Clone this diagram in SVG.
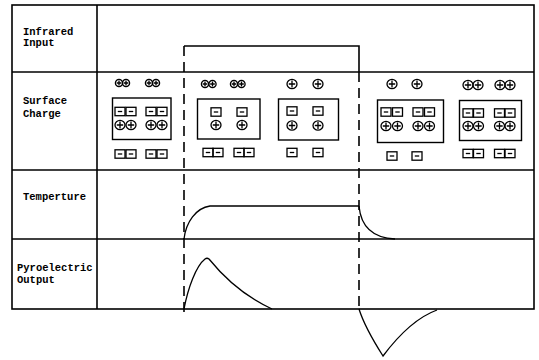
<svg xmlns="http://www.w3.org/2000/svg" xmlns:xlink="http://www.w3.org/1999/xlink" width="539" height="360" viewBox="0 0 539 360">
<style>
.frame{fill:none;stroke:#000;stroke-width:1.6}
.s{fill:none;stroke:#000;stroke-width:1.3}
.box{fill:none;stroke:#000;stroke-width:1.4}
.dash{fill:none;stroke:#000;stroke-width:1.6;stroke-dasharray:10 6}
.curve{fill:none;stroke:#000;stroke-width:1.3}
.lbl{font-family:"Liberation Mono","DejaVu Sans Mono",monospace;font-weight:bold;font-size:10.5px;fill:#000}
</style>
<defs>
<g id="pc"><ellipse rx="5" ry="4.6" class="s"/><path d="M0-3.4V3.4M-3.2 0H3.2" class="s"/></g>
<g id="pcs"><circle r="3.6" class="s"/><path d="M0-2.5V2.5M-2.3 0H2.3" class="s"/></g>
<g id="ms"><rect x="-5" y="-4.2" width="10" height="8.4" class="s"/><path d="M-2.2 0H2.2" class="s"/></g>
</defs>

<g id="frame">
<rect class="frame" x="12" y="5" width="522" height="304"/>
<line class="frame" x1="97" y1="5" x2="97" y2="309"/>
<line class="frame" x1="12" y1="72" x2="534" y2="72"/>
<line class="frame" x1="12" y1="170" x2="534" y2="170"/>
<line class="frame" x1="12" y1="239" x2="534" y2="239"/>
</g>

<g id="labels">
<text class="lbl" x="23" y="35">Infrared</text>
<text class="lbl" x="23" y="46">Input</text>
<text class="lbl" x="23" y="104">Surface</text>
<text class="lbl" x="23" y="117">Charge</text>
<text class="lbl" x="23" y="200">Temperture</text>
<text class="lbl" x="17" y="271">Pyroelectric</text>
<text class="lbl" x="17" y="283">Output</text>
</g>

<g id="connectors">
<path class="frame" d="M184 46H359V72"/>
<line class="dash" x1="184" y1="46" x2="184" y2="315"/>
<line class="dash" x1="359" y1="72" x2="359" y2="309"/>
<path class="curve" d="M184 239C186 222 196 208 210 206H359"/>
<path class="curve" d="M359 206C361 228 375 238 395 239"/>
<path class="curve" d="M184 309C188 288 196 266 205 259Q207 257.5 209 259C226 280 246 297 272 309"/>
<path class="curve" d="M359 309C364 325 376 345 383 356C395 340 415 318 437 310"/>
</g>

<g id="charge1">
<use xlink:href="#pcs" x="119" y="83"/><use xlink:href="#pcs" x="126" y="83"/>
<use xlink:href="#pcs" x="149" y="83"/><use xlink:href="#pcs" x="156" y="83"/>
<rect class="box" x="112.5" y="98" width="58.5" height="41.5"/>
<use xlink:href="#ms" x="120" y="111.5"/><use xlink:href="#ms" x="131" y="111.5"/>
<use xlink:href="#ms" x="151" y="111.5"/><use xlink:href="#ms" x="162" y="111.5"/>
<use xlink:href="#pc" x="120" y="125"/><use xlink:href="#pc" x="131" y="125"/>
<use xlink:href="#pc" x="151" y="125"/><use xlink:href="#pc" x="162" y="125"/>
<use xlink:href="#ms" x="120" y="154"/><use xlink:href="#ms" x="131" y="154"/>
<use xlink:href="#ms" x="151" y="154"/><use xlink:href="#ms" x="162" y="154"/>
</g>

<g id="charge2">
<use xlink:href="#pcs" x="205" y="84"/><use xlink:href="#pcs" x="212.5" y="84"/>
<use xlink:href="#pcs" x="234" y="84"/><use xlink:href="#pcs" x="241.5" y="84"/>
<rect class="box" x="197.5" y="99" width="62.5" height="40"/>
<use xlink:href="#ms" x="216" y="112"/><use xlink:href="#ms" x="242" y="112"/>
<use xlink:href="#pc" x="216" y="125"/><use xlink:href="#pc" x="242" y="125"/>
<use xlink:href="#ms" x="208" y="152.5"/><use xlink:href="#ms" x="218" y="152.5"/>
<use xlink:href="#ms" x="239" y="152.5"/><use xlink:href="#ms" x="249" y="152.5"/>
</g>

<g id="charge3">
<use xlink:href="#pc" x="292" y="84"/><use xlink:href="#pc" x="318" y="84"/>
<rect class="box" x="278.5" y="99" width="60" height="41"/>
<use xlink:href="#ms" x="292" y="111"/><use xlink:href="#ms" x="318" y="111"/>
<use xlink:href="#pc" x="292" y="125.5"/><use xlink:href="#pc" x="318" y="125.5"/>
<use xlink:href="#ms" x="292" y="152.5"/><use xlink:href="#ms" x="318" y="152.5"/>
</g>

<g id="charge4">
<use xlink:href="#pc" x="392" y="84"/><use xlink:href="#pc" x="417" y="84"/>
<rect class="box" x="377.5" y="100" width="66" height="42.5"/>
<use xlink:href="#ms" x="386" y="112"/><use xlink:href="#ms" x="397.5" y="112"/>
<use xlink:href="#ms" x="418" y="112"/><use xlink:href="#ms" x="429.5" y="112"/>
<use xlink:href="#pc" x="386" y="126"/><use xlink:href="#pc" x="397.5" y="126"/>
<use xlink:href="#pc" x="418" y="126"/><use xlink:href="#pc" x="429.5" y="126"/>
<use xlink:href="#ms" x="392" y="156"/><use xlink:href="#ms" x="417" y="156"/>
</g>

<g id="charge5">
<use xlink:href="#pc" x="468" y="85"/><use xlink:href="#pc" x="478" y="85"/>
<use xlink:href="#pc" x="500" y="85"/><use xlink:href="#pc" x="510" y="85"/>
<rect class="box" x="459.5" y="100.5" width="62" height="40"/>
<use xlink:href="#ms" x="468" y="113"/><use xlink:href="#ms" x="478.5" y="113"/>
<use xlink:href="#ms" x="499.5" y="113"/><use xlink:href="#ms" x="510" y="113"/>
<use xlink:href="#pc" x="468" y="126"/><use xlink:href="#pc" x="478.5" y="126"/>
<use xlink:href="#pc" x="499.5" y="126"/><use xlink:href="#pc" x="510" y="126"/>
<use xlink:href="#ms" x="468" y="153.5"/><use xlink:href="#ms" x="478.5" y="153.5"/>
<use xlink:href="#ms" x="499.5" y="153.5"/><use xlink:href="#ms" x="510" y="153.5"/>
</g>
</svg>
